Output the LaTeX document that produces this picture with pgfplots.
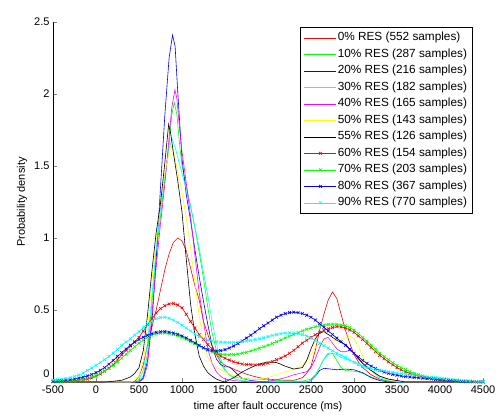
\documentclass[border=0pt]{standalone}
\usepackage{pgfplots}
\pgfplotsset{compat=1.18}
\usepackage{fontspec}
\setmainfont{Liberation Sans}
\definecolor{mr}{rgb}{1,0,0}
\definecolor{mg}{rgb}{0,1,0}
\definecolor{mb}{rgb}{0,0,1}
\definecolor{mc}{rgb}{0,1,1}
\definecolor{mm}{rgb}{1,0,1}
\definecolor{my}{rgb}{1,1,0}
\definecolor{mk}{rgb}{0,0,0}
\begin{document}
\begin{tikzpicture}
\begin{axis}[
  scale only axis, width=430pt, height=360pt,
  xmin=-500, xmax=4500, ymin=0, ymax=2.5,
  axis lines*=left,
  tick align=inside,
  major tick length=4pt,
  xtick={-500,0,...,4500},
  xticklabels={-500,0,500,1000,1500,2000,2500,3000,3500,4000,4500},
  ytick={0,0.5,1,1.5,2,2.5},
  yticklabels={\raisebox{16pt}{0},0.5,1,1.5,2,2.5},
  tick label style={font=\fontsize{11}{13}\selectfont},
  label style={font=\fontsize{11}{13}\selectfont},
  xlabel={time after fault occurence (ms)},
  ylabel={Probability density},
  xlabel style={at={(axis description cs:0.5,-0.069)},anchor=center},
  ylabel style={at={(axis description cs:-0.072,0.5)},anchor=center},
  legend cell align=left,
  legend style={at={(0.975,0.986)}, anchor=north east, draw=black, line width=0.6pt,
    font=\fontsize{11.8}{14}\selectfont, inner xsep=4pt, inner ysep=4pt, row sep=3.5pt,
    nodes={inner sep=1pt, text height=8.5pt, text depth=2.5pt}},
  legend image code/.code={\draw[mark repeat=2,mark phase=2,#1] plot coordinates {(0pt,0pt) (16pt,0pt) (32pt,0pt)};},
  every axis plot/.append style={line width=0.6pt},
  mark size=2pt,
]
% 0% RES
\addplot[mr] coordinates {(-500,0) (400,0) (450,0.005) (500,0.04) (550,0.12) (600,0.26) (650,0.38) (700,0.5) (750,0.64) (800,0.78) (850,0.89) (900,0.97) (950,1.0) (1000,0.98) (1050,0.91) (1100,0.79) (1150,0.67) (1200,0.57) (1250,0.42) (1300,0.33) (1350,0.25) (1400,0.19) (1450,0.14) (1500,0.115) (1600,0.09) (1700,0.065) (1800,0.045) (1900,0.03) (2000,0.02) (2100,0.015) (2200,0.012) (2300,0.012) (2400,0.03) (2450,0.06) (2500,0.11) (2550,0.22) (2600,0.36) (2650,0.47) (2700,0.57) (2750,0.625) (2800,0.58) (2850,0.47) (2900,0.36) (2950,0.27) (3000,0.19) (3050,0.14) (3100,0.1) (3200,0.05) (3300,0.02) (3400,0.005) (3500,0) (4500,0)};
% 10% RES
\addplot[mg] coordinates {(-500,0) (450,0) (500,0.01) (550,0.04) (600,0.2) (650,0.55) (700,0.88) (750,1.15) (800,1.4) (850,1.65) (880,1.85) (910,1.94) (940,1.86) (975,1.63) (1000,1.5) (1050,1.36) (1100,1.22) (1150,1.07) (1200,0.9) (1250,0.72) (1300,0.52) (1350,0.34) (1400,0.22) (1450,0.13) (1500,0.08) (1550,0.05) (1600,0.035) (1700,0.025) (1800,0.02) (1900,0.02) (2000,0.015) (2200,0.008) (2400,0.006) (2500,0.02) (2550,0.05) (2600,0.1) (2650,0.16) (2700,0.2) (2750,0.2) (2800,0.15) (2850,0.1) (2900,0.08) (3000,0.075) (3050,0.07) (3100,0.06) (3200,0.035) (3300,0.015) (3400,0.005) (3500,0) (4500,0)};
% 20% RES
\addplot[mb] coordinates {(-500,0) (500,0) (550,0.03) (600,0.15) (650,0.41) (700,0.85) (750,1.35) (800,1.85) (850,2.25) (890,2.41) (920,2.33) (950,2.02) (1000,1.55) (1050,1.3) (1100,1.12) (1150,0.92) (1200,0.73) (1250,0.56) (1300,0.4) (1350,0.25) (1400,0.16) (1450,0.12) (1500,0.105) (1550,0.105) (1600,0.08) (1650,0.05) (1700,0.025) (1800,0.01) (1900,0.004) (2000,0) (2450,0) (2500,0.01) (2550,0.04) (2600,0.08) (2650,0.095) (2700,0.092) (2800,0.085) (2900,0.09) (3000,0.085) (3100,0.065) (3200,0.03) (3300,0.01) (3400,0) (4500,0)};
% 30% RES
\addplot[mc] coordinates {(-500,0) (450,0) (500,0.02) (550,0.08) (600,0.28) (650,0.6) (700,0.93) (750,1.2) (800,1.42) (850,1.62) (884,1.69) (920,1.63) (950,1.56) (1000,1.45) (1050,1.34) (1100,1.22) (1150,1.08) (1200,0.93) (1250,0.76) (1300,0.6) (1350,0.42) (1400,0.27) (1450,0.16) (1500,0.09) (1550,0.05) (1600,0.025) (1650,0.015) (1700,0.01) (1800,0.005) (1900,0) (2450,0) (2500,0.01) (2550,0.04) (2600,0.1) (2650,0.16) (2700,0.19) (2750,0.2) (2800,0.19) (2850,0.17) (2900,0.16) (2950,0.15) (3000,0.14) (3050,0.13) (3100,0.115) (3150,0.1) (3200,0.08) (3250,0.05) (3300,0.03) (3400,0.01) (3500,0) (4500,0)};
% 40% RES
\addplot[mm] coordinates {(-500,0) (500,0) (550,0.02) (600,0.12) (650,0.47) (700,0.8) (750,1.1) (800,1.37) (850,1.7) (880,1.9) (918,2.03) (940,1.97) (970,1.77) (1000,1.6) (1050,1.38) (1100,1.15) (1150,0.88) (1200,0.62) (1250,0.42) (1300,0.23) (1350,0.13) (1400,0.07) (1450,0.04) (1500,0.02) (1600,0.01) (1700,0.005) (1800,0) (1900,0) (2000,0.005) (2100,0.015) (2200,0.03) (2300,0.05) (2400,0.065) (2450,0.07) (2500,0.1) (2550,0.16) (2600,0.24) (2650,0.3) (2700,0.31) (2750,0.27) (2800,0.23) (2850,0.21) (2900,0.21) (2950,0.22) (3000,0.2) (3050,0.16) (3100,0.13) (3150,0.1) (3200,0.08) (3300,0.04) (3400,0.02) (3500,0.01) (3600,0) (4500,0)};
% 50% RES
\addplot[my] coordinates {(-500,0) (400,0) (450,0.01) (500,0.04) (550,0.15) (600,0.38) (650,0.7) (700,0.99) (750,1.25) (800,1.45) (850,1.6) (872,1.64) (900,1.6) (950,1.46) (1000,1.32) (1050,1.14) (1100,0.93) (1150,0.69) (1200,0.46) (1250,0.27) (1300,0.17) (1350,0.13) (1400,0.1) (1500,0.07) (1600,0.045) (1700,0.025) (1800,0.015) (1900,0.02) (2000,0.03) (2100,0.05) (2200,0.07) (2300,0.09) (2400,0.115) (2450,0.15) (2500,0.19) (2550,0.24) (2600,0.27) (2700,0.28) (2800,0.29) (2900,0.305) (2950,0.32) (3000,0.3) (3050,0.25) (3100,0.18) (3150,0.12) (3200,0.08) (3300,0.04) (3400,0.015) (3500,0.005) (3600,0) (4500,0)};
% 55% RES
\addplot[mk] coordinates {(-500,0) (100,0) (200,0.005) (300,0.012) (400,0.035) (450,0.06) (500,0.1) (550,0.22) (600,0.47) (650,0.77) (700,1.04) (750,1.24) (800,1.52) (845,1.79) (870,1.72) (900,1.59) (950,1.4) (1000,1.18) (1050,0.85) (1100,0.54) (1150,0.33) (1200,0.18) (1250,0.11) (1300,0.065) (1350,0.04) (1400,0.02) (1450,0.008) (1500,0) (1600,0.03) (1700,0.07) (1800,0.1) (1900,0.125) (2000,0.14) (2100,0.135) (2200,0.11) (2300,0.09) (2400,0.1) (2450,0.15) (2500,0.23) (2550,0.3) (2600,0.34) (2650,0.35) (2700,0.33) (2800,0.29) (2900,0.26) (3000,0.2) (3100,0.13) (3200,0.08) (3300,0.04) (3400,0.02) (3500,0.01) (3600,0) (4500,0)};
% 60% RES
\addplot[mr, mark=x] coordinates {(-500,0.002) (-450,0.003) (-400,0.004) (-350,0.005) (-300,0.007) (-250,0.009) (-200,0.012) (-150,0.016) (-100,0.02) (-50,0.028) (0,0.04) (50,0.056) (100,0.075) (150,0.097) (200,0.12) (250,0.155) (300,0.19) (350,0.22) (400,0.25) (450,0.28) (500,0.31) (550,0.355) (600,0.4) (650,0.44) (700,0.48) (750,0.51) (800,0.53) (850,0.542) (900,0.545) (950,0.535) (1000,0.515) (1050,0.47) (1100,0.42) (1150,0.375) (1200,0.33) (1250,0.295) (1300,0.26) (1350,0.23) (1400,0.2) (1450,0.18) (1500,0.165) (1550,0.152) (1600,0.14) (1650,0.132) (1700,0.125) (1750,0.122) (1800,0.12) (1850,0.119) (1900,0.12) (1950,0.124) (2000,0.13) (2050,0.142) (2100,0.155) (2150,0.167) (2200,0.18) (2250,0.2) (2300,0.22) (2350,0.245) (2400,0.27) (2450,0.29) (2500,0.31) (2550,0.328) (2600,0.345) (2650,0.358) (2700,0.37) (2750,0.378) (2800,0.385) (2850,0.382) (2900,0.375) (2950,0.362) (3000,0.345) (3050,0.32) (3100,0.295) (3150,0.268) (3200,0.24) (3250,0.212) (3300,0.185) (3350,0.162) (3400,0.14) (3450,0.12) (3500,0.1) (3550,0.085) (3600,0.07) (3650,0.06) (3700,0.05) (3750,0.042) (3800,0.035) (3850,0.028) (3900,0.022) (3950,0.017) (4000,0.013) (4050,0.01) (4100,0.008) (4150,0.006) (4200,0.004) (4250,0.003) (4300,0.002) (4350,0.0015) (4400,0.001) (4450,0.0005) (4500,0)};
% 70% RES
\addplot[mg, mark=x] coordinates {(-500,0.003) (-450,0.004) (-400,0.005) (-350,0.006) (-300,0.008) (-250,0.011) (-200,0.015) (-150,0.019) (-100,0.025) (-50,0.034) (0,0.045) (50,0.059) (100,0.075) (150,0.094) (200,0.115) (250,0.14) (300,0.165) (350,0.192) (400,0.22) (450,0.245) (500,0.27) (550,0.29) (600,0.31) (650,0.324) (700,0.335) (750,0.339) (800,0.34) (850,0.336) (900,0.33) (950,0.321) (1000,0.31) (1050,0.296) (1100,0.28) (1150,0.265) (1200,0.25) (1250,0.235) (1300,0.22) (1350,0.209) (1400,0.2) (1450,0.194) (1500,0.19) (1550,0.189) (1600,0.19) (1650,0.194) (1700,0.2) (1750,0.207) (1800,0.215) (1850,0.225) (1900,0.235) (1950,0.245) (2000,0.255) (2050,0.268) (2100,0.28) (2150,0.293) (2200,0.305) (2250,0.318) (2300,0.33) (2350,0.343) (2400,0.355) (2450,0.366) (2500,0.375) (2550,0.383) (2600,0.39) (2650,0.396) (2700,0.4) (2750,0.401) (2800,0.4) (2850,0.396) (2900,0.39) (2950,0.377) (3000,0.36) (3050,0.336) (3100,0.31) (3150,0.283) (3200,0.255) (3250,0.227) (3300,0.2) (3350,0.177) (3400,0.155) (3450,0.134) (3500,0.115) (3550,0.099) (3600,0.085) (3650,0.072) (3700,0.06) (3750,0.05) (3800,0.042) (3850,0.035) (3900,0.028) (3950,0.023) (4000,0.018) (4050,0.014) (4100,0.011) (4150,0.008) (4200,0.006) (4250,0.004) (4300,0.003) (4350,0.0025) (4400,0.002) (4450,0.0015) (4500,0.001)};
% 80% RES
\addplot[mb, mark=x] coordinates {(-500,0.005) (-450,0.007) (-400,0.01) (-350,0.013) (-300,0.016) (-250,0.021) (-200,0.027) (-150,0.034) (-100,0.042) (-50,0.052) (0,0.065) (50,0.081) (100,0.1) (150,0.124) (200,0.15) (250,0.178) (300,0.205) (350,0.23) (400,0.255) (450,0.276) (500,0.295) (550,0.311) (600,0.325) (650,0.336) (700,0.345) (750,0.349) (800,0.35) (850,0.346) (900,0.34) (950,0.331) (1000,0.32) (1050,0.306) (1100,0.29) (1150,0.272) (1200,0.255) (1250,0.238) (1300,0.225) (1350,0.218) (1400,0.215) (1450,0.218) (1500,0.225) (1550,0.236) (1600,0.25) (1650,0.267) (1700,0.285) (1750,0.305) (1800,0.325) (1850,0.347) (1900,0.37) (1950,0.39) (2000,0.41) (2050,0.43) (2100,0.45) (2150,0.464) (2200,0.475) (2250,0.482) (2300,0.485) (2350,0.482) (2400,0.475) (2450,0.464) (2500,0.45) (2550,0.43) (2600,0.405) (2650,0.38) (2700,0.355) (2750,0.33) (2800,0.305) (2850,0.28) (2900,0.255) (2950,0.228) (3000,0.2) (3050,0.175) (3100,0.15) (3150,0.129) (3200,0.11) (3250,0.094) (3300,0.08) (3350,0.069) (3400,0.06) (3450,0.053) (3500,0.047) (3550,0.042) (3600,0.038) (3650,0.035) (3700,0.032) (3750,0.029) (3800,0.027) (3850,0.024) (3900,0.022) (3950,0.019) (4000,0.017) (4050,0.014) (4100,0.012) (4150,0.01) (4200,0.008) (4250,0.006) (4300,0.005) (4350,0.004) (4400,0.003) (4450,0.002) (4500,0.001)};
% 90% RES
\addplot[mc, mark=x] coordinates {(-500,0.014) (-450,0.017) (-400,0.02) (-350,0.025) (-300,0.03) (-250,0.038) (-200,0.048) (-150,0.062) (-100,0.08) (-50,0.097) (0,0.115) (50,0.135) (100,0.155) (150,0.177) (200,0.2) (250,0.227) (300,0.255) (350,0.278) (400,0.3) (450,0.325) (500,0.35) (550,0.378) (600,0.405) (650,0.425) (700,0.44) (750,0.448) (800,0.45) (850,0.443) (900,0.43) (950,0.413) (1000,0.395) (1050,0.375) (1100,0.355) (1150,0.334) (1200,0.315) (1250,0.3) (1300,0.29) (1350,0.284) (1400,0.28) (1450,0.277) (1500,0.275) (1550,0.275) (1600,0.275) (1650,0.277) (1700,0.28) (1750,0.285) (1800,0.29) (1850,0.295) (1900,0.3) (1950,0.307) (2000,0.315) (2050,0.323) (2100,0.33) (2150,0.336) (2200,0.34) (2250,0.341) (2300,0.34) (2350,0.336) (2400,0.33) (2450,0.319) (2500,0.305) (2550,0.288) (2600,0.27) (2650,0.252) (2700,0.235) (2750,0.217) (2800,0.2) (2850,0.185) (2900,0.17) (2950,0.152) (3000,0.135) (3050,0.12) (3100,0.108) (3150,0.099) (3200,0.092) (3250,0.087) (3300,0.082) (3350,0.077) (3400,0.072) (3450,0.067) (3500,0.063) (3550,0.059) (3600,0.055) (3650,0.051) (3700,0.048) (3750,0.044) (3800,0.04) (3850,0.036) (3900,0.033) (3950,0.03) (4000,0.027) (4050,0.023) (4100,0.02) (4150,0.017) (4200,0.014) (4250,0.011) (4300,0.009) (4350,0.007) (4400,0.005) (4450,0.004) (4500,0.003)};
\legend{0\% RES (552 samples),10\% RES (287 samples),20\% RES (216 samples),30\% RES (182 samples),40\% RES (165 samples),50\% RES (143 samples),55\% RES (126 samples),60\% RES (154 samples),70\% RES (203 samples),80\% RES (367 samples),90\% RES (770 samples)}
\coordinate (sw) at (rel axis cs:0,0);
\coordinate (ne) at (rel axis cs:1,1);
\node[anchor=base west, inner sep=0pt, font=\fontsize{10}{12}\selectfont] at ([yshift=6pt]rel axis cs:0,1) {x 10\textsuperscript{-3}};
\end{axis}
\pgfresetboundingbox
\path[use as bounding box] ([shift={(-53pt,-35pt)}]sw) rectangle ([shift={(15pt,22pt)}]ne);
\end{tikzpicture}
\end{document}
